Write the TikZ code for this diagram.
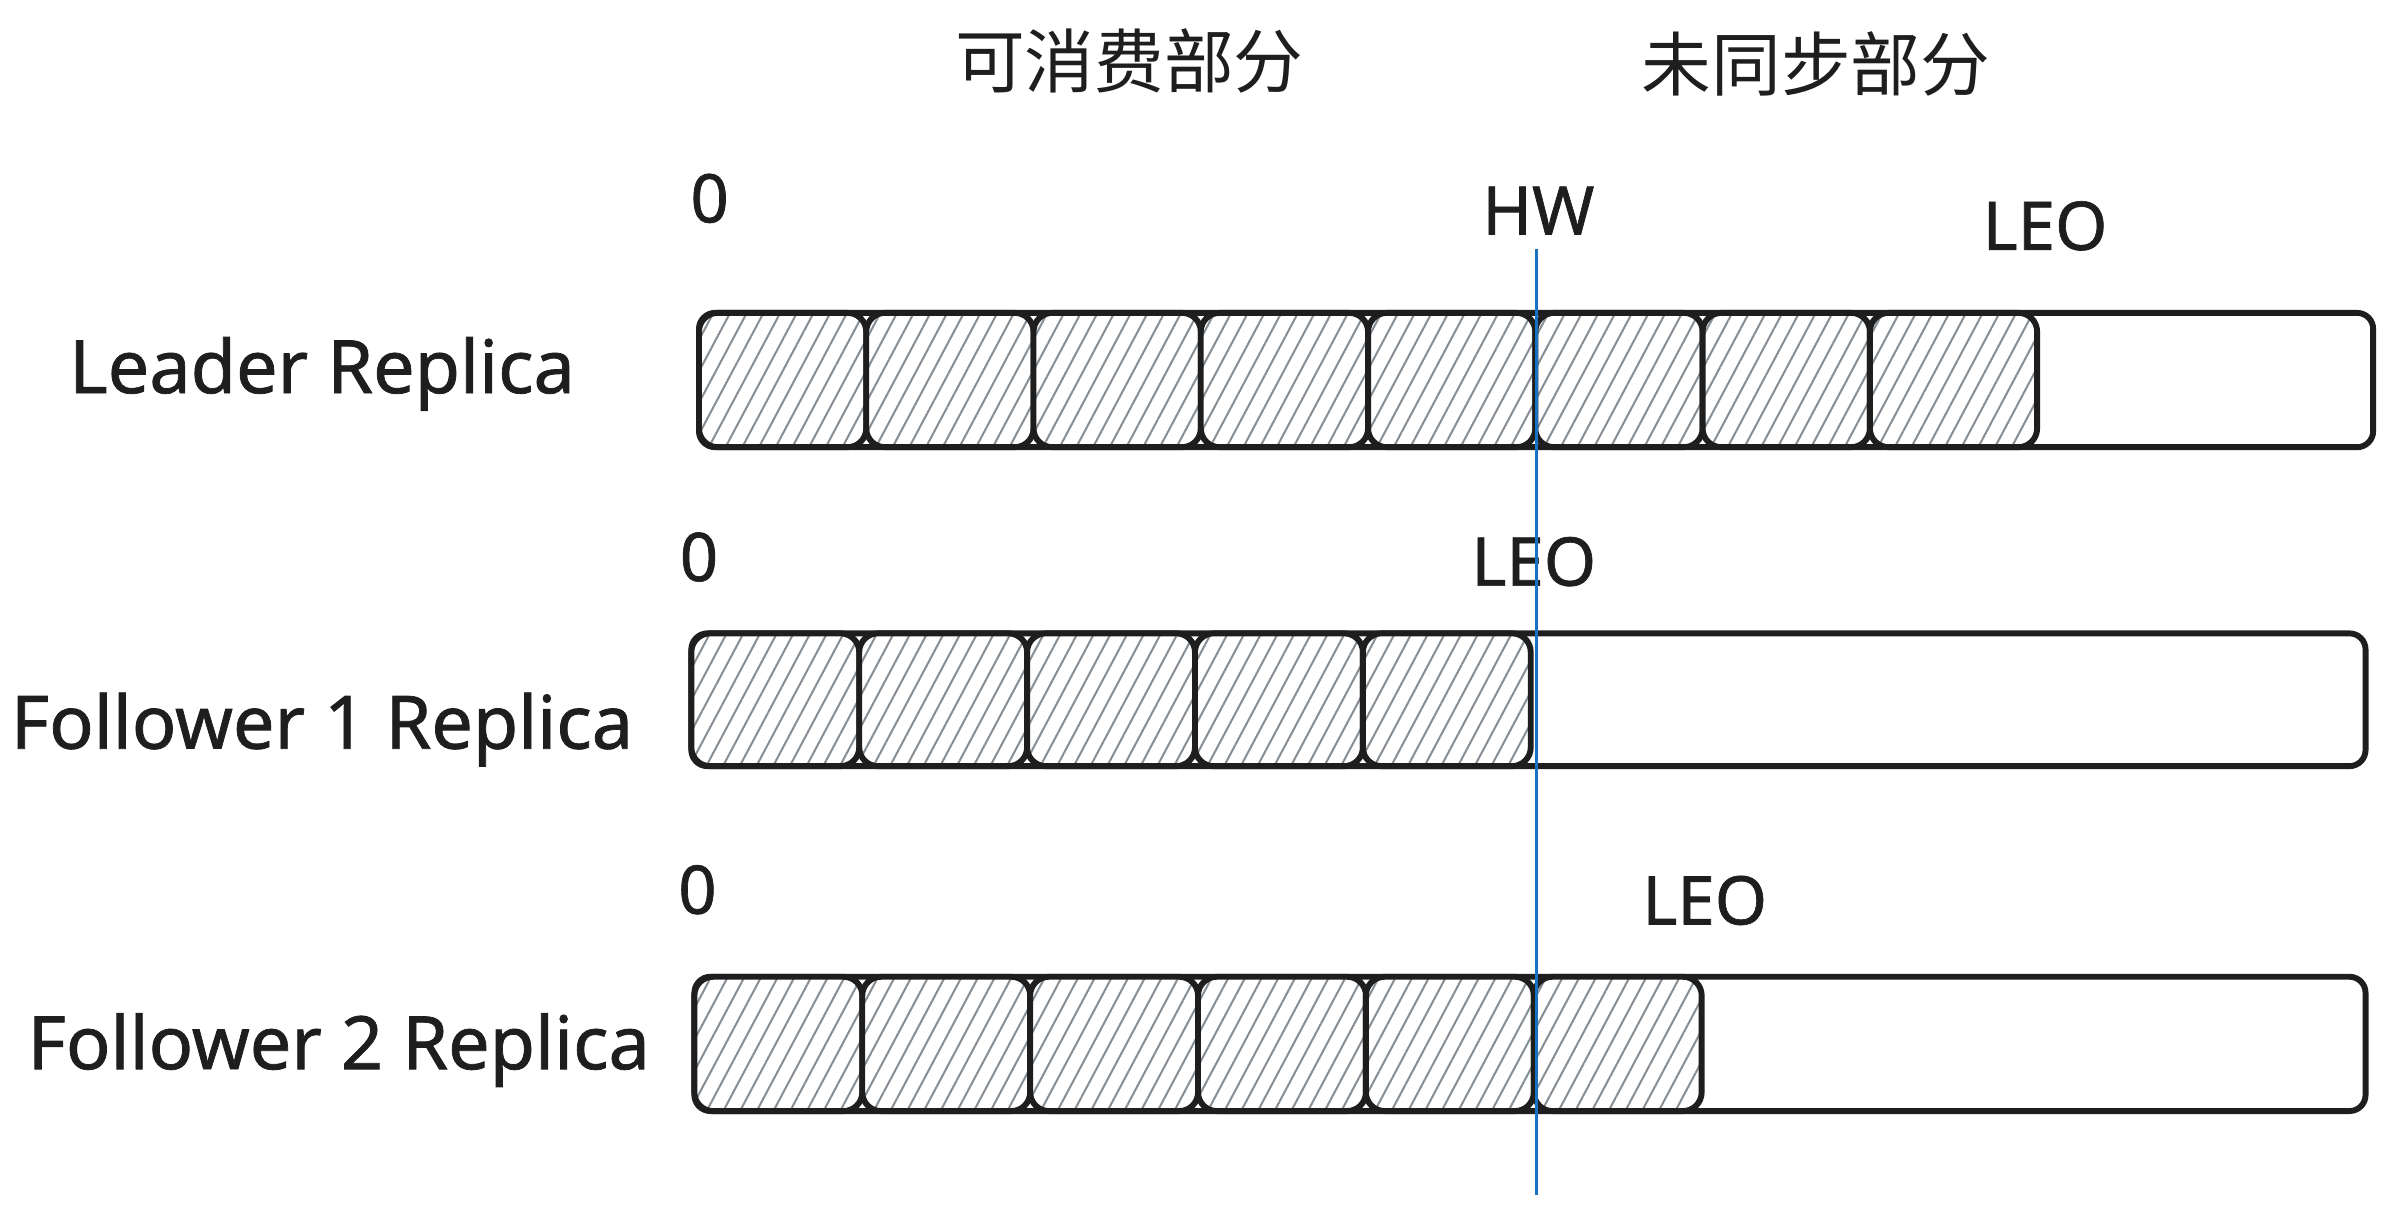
\documentclass[tikz,border=0pt]{standalone}
\usepackage{fontspec}
\setmainfont{Noto Sans}[FakeBold=1]
\newfontfamily\cjkfont{Noto Sans CJK SC}
\usepackage{xcolor}
\usetikzlibrary{patterns.meta}

\definecolor{inkblack}{HTML}{1E1E1E}
\definecolor{hatchgray}{HTML}{868E96}
\definecolor{hwblue}{HTML}{1971C2}

\tikzset{
  barbox/.style={draw=inkblack, line width=2.2pt, rounded corners=6pt, fill=white},
  cellbox/.style={draw=inkblack, line width=2.2pt, rounded corners=7pt,
    preaction={fill=white},
    pattern={Lines[angle=62,distance=5.5pt,line width=0.75pt]}, pattern color=hatchgray},
  titletext/.style={font=\cjkfont\fontsize{26}{30}\selectfont, text=inkblack},
  labeltext/.style={font=\fontsize{27.5}{32}\selectfont, text=inkblack},
  marktext/.style={font=\fontsize{25}{30}\selectfont, text=inkblack},
  hwline/.style={draw=hwblue, line width=1.1pt}
}

\begin{document}
\begin{tikzpicture}[x=0.02cm, y=-0.02cm]
  \useasboundingbox (0,0) rectangle (1568,796);

  % section titles
  \node[titletext] (consumable) at (740,40) {可消费部分};
  \node[titletext] (unsynced) at (1190,42) {未同步部分};

  % leader
  \node[labeltext] (leader) at (211,245) {Leader Replica};
  \node[marktext] (leaderzero) at (465,130) {0};
  \node[marktext] (hw) at (1008,138) {HW};
  \node[marktext] (leaderleo) at (1340,148) {LEO};
  \draw[barbox] (458,205) rectangle (1555,293);
  \foreach \i in {0,...,7}
    \draw[cellbox] ({458+109.6*\i},205) rectangle ++(109.6,88);

  % follower 1
  \node[labeltext] (followerone) at (211,478) {Follower 1 Replica};
  \node[marktext] (fonezero) at (458,365) {0};
  \node[marktext] (foneleo) at (1005,368) {LEO};
  \draw[barbox] (453,415) rectangle (1550,502);
  \foreach \i in {0,...,4}
    \draw[cellbox] ({453+110*\i},415) rectangle ++(110,87);

  % follower 2
  \node[labeltext] (followertwo) at (222,688) {Follower 2 Replica};
  \node[marktext] (ftwozero) at (457,583) {0};
  \node[marktext] (ftwoleo) at (1117,590) {LEO};
  \draw[barbox] (455,640) rectangle (1550,728);
  \foreach \i in {0,...,5}
    \draw[cellbox] ({455+110*\i},640) rectangle ++(110,88);

  % high watermark
  \coordinate (hwtop) at (1007,163);
  \coordinate (hwbot) at (1007,783);
  \draw[hwline] (hwtop) -- (hwbot);
\end{tikzpicture}
\end{document}
